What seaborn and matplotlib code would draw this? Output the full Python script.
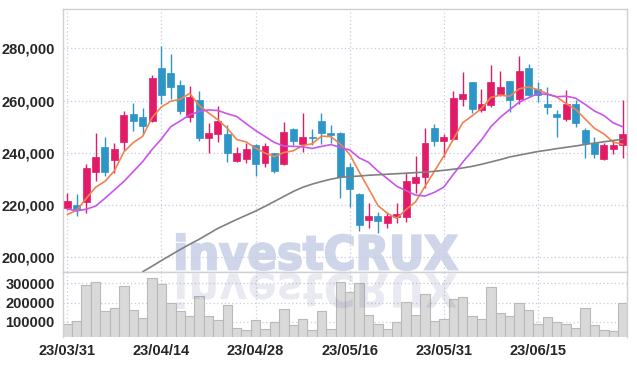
import numpy as np
import pandas as pd
import matplotlib
matplotlib.use('Agg')
import matplotlib.pyplot as plt
import matplotlib.ticker as ticker
import matplotlib.transforms as mtransforms
from matplotlib.textpath import TextPath
from matplotlib.patches import PathPatch
from matplotlib.font_manager import FontProperties
import seaborn as sns

### DATA ###
holidays = ['2023-05-01', '2023-05-05', '2023-05-29', '2023-06-06']
dates = pd.bdate_range('2023-03-31', periods=60, freq='C', holidays=holidays)

opens = [219000, 220200, 221000, 232800, 242200, 237400, 244300, 254800, 253600, 252300,
         272600, 270700, 266000, 253800, 260200, 245800, 247300, 247200, 237000, 237500,
         242900, 236000, 239800, 235800, 249100, 243400, 246000, 252200, 247600, 247500,
         234700, 224200, 214300, 215800, 213300, 215500, 215500, 228300, 230900, 249400,
         244600, 245300, 260700, 267100, 256300, 258400, 262500, 267500, 260500, 272500,
         264300, 258700, 254800, 252800, 258700, 248700, 243900, 237500, 241300, 243000]
highs = [224500, 224300, 235600, 247700, 246200, 243600, 256000, 259200, 257000, 269800,
         280900, 277800, 267900, 265600, 263800, 251300, 257900, 250600, 242300, 243600,
         243200, 243600, 240000, 251900, 249600, 255400, 249100, 255400, 250600, 248100,
         236200, 224500, 220700, 217500, 217500, 220900, 232100, 238800, 249600, 250900,
         247200, 263700, 270800, 267100, 264300, 273600, 271100, 267500, 277200, 273900,
         267200, 265300, 256400, 264000, 260200, 249400, 245900, 243900, 244900, 260200]
lows = [218000, 215800, 216800, 229300, 231200, 232100, 241100, 248500, 247200, 251900,
        258700, 260600, 254800, 251900, 244600, 239800, 244000, 236300, 236300, 236000,
        231200, 234400, 232400, 235500, 243000, 240400, 243000, 243400, 243600, 222600,
        219400, 210200, 211100, 209200, 211100, 213300, 213400, 224700, 226400, 242600,
        238500, 244900, 257900, 255400, 255500, 257400, 261900, 255700, 258700, 261900,
        259600, 254800, 246200, 252300, 249700, 237900, 237900, 237200, 239500, 237900]
closes = [221500, 218400, 234300, 238400, 232800, 241500, 254500, 252300, 250300, 268600,
          262100, 265300, 256100, 261400, 245800, 247600, 252200, 239800, 239900, 241300,
          235800, 242600, 233000, 247800, 244600, 245900, 245800, 247700, 246800, 230600,
          226000, 212500, 215900, 214000, 215800, 216600, 229200, 230600, 243600, 244600,
          245900, 260800, 262500, 256800, 258700, 267100, 265100, 260200, 271300, 262100,
          262000, 257400, 253800, 258700, 251300, 243600, 239500, 243000, 243000, 247200]
volumes = [91300, 103500, 291300, 305200, 155700, 171300, 286100, 164400, 119100, 327800,
           296500, 197400, 155700, 129600, 233900, 129600, 108700, 187000, 70500, 60000,
           108700, 65200, 100000, 169600, 82600, 113900, 56500, 155700, 61800, 305200,
           254800, 303500, 134800, 91300, 65200, 100000, 200900, 134800, 244400, 103500,
           117400, 218300, 227000, 129600, 117400, 279100, 148700, 129600, 195700, 164400,
           87800, 126100, 98300, 91300, 70500, 174800, 86100, 60000, 53100, 195700]
# moving averages: first values need closes from before the window ->
ma5_head = [216400, 218000, 222500, 226800]
ma10_head = [218500, 217800, 218400, 219600, 222600, 225800, 229000, 232800, 236600]
ma60 = [np.nan] * 8 + [
    194500, 196600, 198800, 200900, 203000, 205000, 206900, 209000, 211100, 212800,
    214500, 216100, 217700, 219500, 221400, 223300, 225200, 226800, 228000, 229000,
    229900, 230600, 230900, 231100, 231400, 231600, 231800, 232000, 232200, 232400,
    232600, 232900, 233300, 233700, 234200, 234800, 235600, 236500, 237400, 238400,
    239100, 239800, 240500, 241000, 241600, 242100, 242600, 243200, 243700, 244200,
    244700, 245200]
tick_idx = [0, 10, 20, 30, 40, 50]

### STYLE ###
RED = '#e21b68'
BLUE = '#2e95c7'
ORANGE = '#ef8450'
PURPLE = '#cb55ea'
GRAY = '#808080'
GRID = '#c8cce0'
FRAME = '#d0d0d0'
WMARK = '#d0d6ea'

df = pd.DataFrame({'idx': np.arange(60), 'date': dates, 'open': opens, 'high': highs,
                   'low': lows, 'close': closes, 'volume': volumes})
df['ma5'] = df['close'].rolling(5).mean()
df.loc[:3, 'ma5'] = ma5_head
df['ma10'] = df['close'].rolling(10).mean()
df.loc[:8, 'ma10'] = ma10_head
df['ma60'] = ma60

sns.set_theme(style='white')
plt.rcParams['font.family'] = ['Liberation Sans Narrow', 'Liberation Sans', 'DejaVu Sans']

W, H = 637, 366
fig = plt.figure(figsize=(W / 100, H / 100), dpi=100)
ax = fig.add_axes([63 / W, (H - 272) / H, 564 / W, 263 / H])
axv = fig.add_axes([63 / W, (H - 337) / H, 564 / W, 65 / H])

### WATERMARK ###
fp = FontProperties(family='DejaVu Sans', weight='bold')
tp = TextPath((0, 0), 'investCRUX', size=50, prop=fp)
ext = tp.get_extents()
x0, x1, top, base = 177, 457, 234, 270
sx = (x1 - x0) / ext.width
sy = (base - top) / ext.height
to_fig = mtransforms.Affine2D().scale(1 / W, 1 / H) + fig.transFigure
t_main = (mtransforms.Affine2D().translate(-ext.x0, -ext.y0).scale(sx, sy)
          .translate(x0, H - base)) + to_fig
ax.add_patch(PathPatch(tp, transform=t_main, facecolor=WMARK, edgecolor=WMARK,
                       lw=1.6, zorder=0.5, clip_on=False))
t_refl = (mtransforms.Affine2D().translate(-ext.x0, -ext.y0).scale(sx, -sy)
          .translate(x0, H - base - 3)) + to_fig
axv.add_patch(PathPatch(tp, transform=t_refl, facecolor=(0.35, 0.35, 0.6, 0.13),
                        edgecolor='none', zorder=3, clip_on=False))

### CANDLES ###
up = df['close'] >= df['open']
cols = np.where(up, RED, BLUE)
ax.vlines(df['idx'], df['low'], df['high'], colors=cols, lw=1.0, zorder=3)
body_lo = df[['open', 'close']].min(axis=1)
body_h = (df['close'] - df['open']).abs()
ax.bar(df['idx'], body_h, bottom=body_lo, width=0.74, color=cols, edgecolor=cols,
       linewidth=0.5, zorder=4)

# MOVING AVERAGES
sns.lineplot(data=df, x='idx', y='ma5', ax=ax, color=ORANGE, lw=1.2, zorder=5)
sns.lineplot(data=df, x='idx', y='ma10', ax=ax, color=PURPLE, lw=1.2, zorder=5)
sns.lineplot(data=df, x='idx', y='ma60', ax=ax, color=GRAY, lw=1.2, zorder=5)

ax.set_xlim(-0.46, 59.46)
ax.set_ylim(194400, 295000)
ax.yaxis.set_major_locator(ticker.MultipleLocator(20000))
ax.yaxis.set_major_formatter(ticker.FuncFormatter(lambda v, p: f'{int(v):,}'))
ax.set_xticks(tick_idx)
ax.set_xticklabels([])
ax.set_xlabel('')
ax.set_ylabel('')

### VOLUME ###
axv.bar(df['idx'], df['volume'], width=1.0, color='#d9d9d9', edgecolor='#b9b9b9',
        linewidth=0.8, zorder=2)
axv.set_xlim(-0.46, 59.46)
axv.set_ylim(21800, 359000)
axv.set_yticks([100000, 200000, 300000])
axv.yaxis.set_major_formatter(ticker.FuncFormatter(lambda v, p: f'{int(v)}'))
axv.set_xticks(tick_idx)
axv.set_xticklabels([df['date'][i].strftime('%y/%m/%d') for i in tick_idx])

for a in (ax, axv):
    a.grid(True, color=GRID, linestyle=(0, (1, 2)), lw=0.9, zorder=0)
    a.set_axisbelow(True)
    a.tick_params(length=0, labelsize=10.5, labelcolor='#262626')
    for lab in a.get_yticklabels() + a.get_xticklabels():
        lab.set_fontweight('bold')
    for s in a.spines.values():
        s.set_color(FRAME)
        s.set_linewidth(1.0)
ax.tick_params(axis='y', pad=6)
axv.tick_params(axis='y', pad=6)
axv.tick_params(axis='x', pad=5)
axv.spines['bottom'].set_visible(False)

fig.savefig('out.png', dpi=100, facecolor='white')
